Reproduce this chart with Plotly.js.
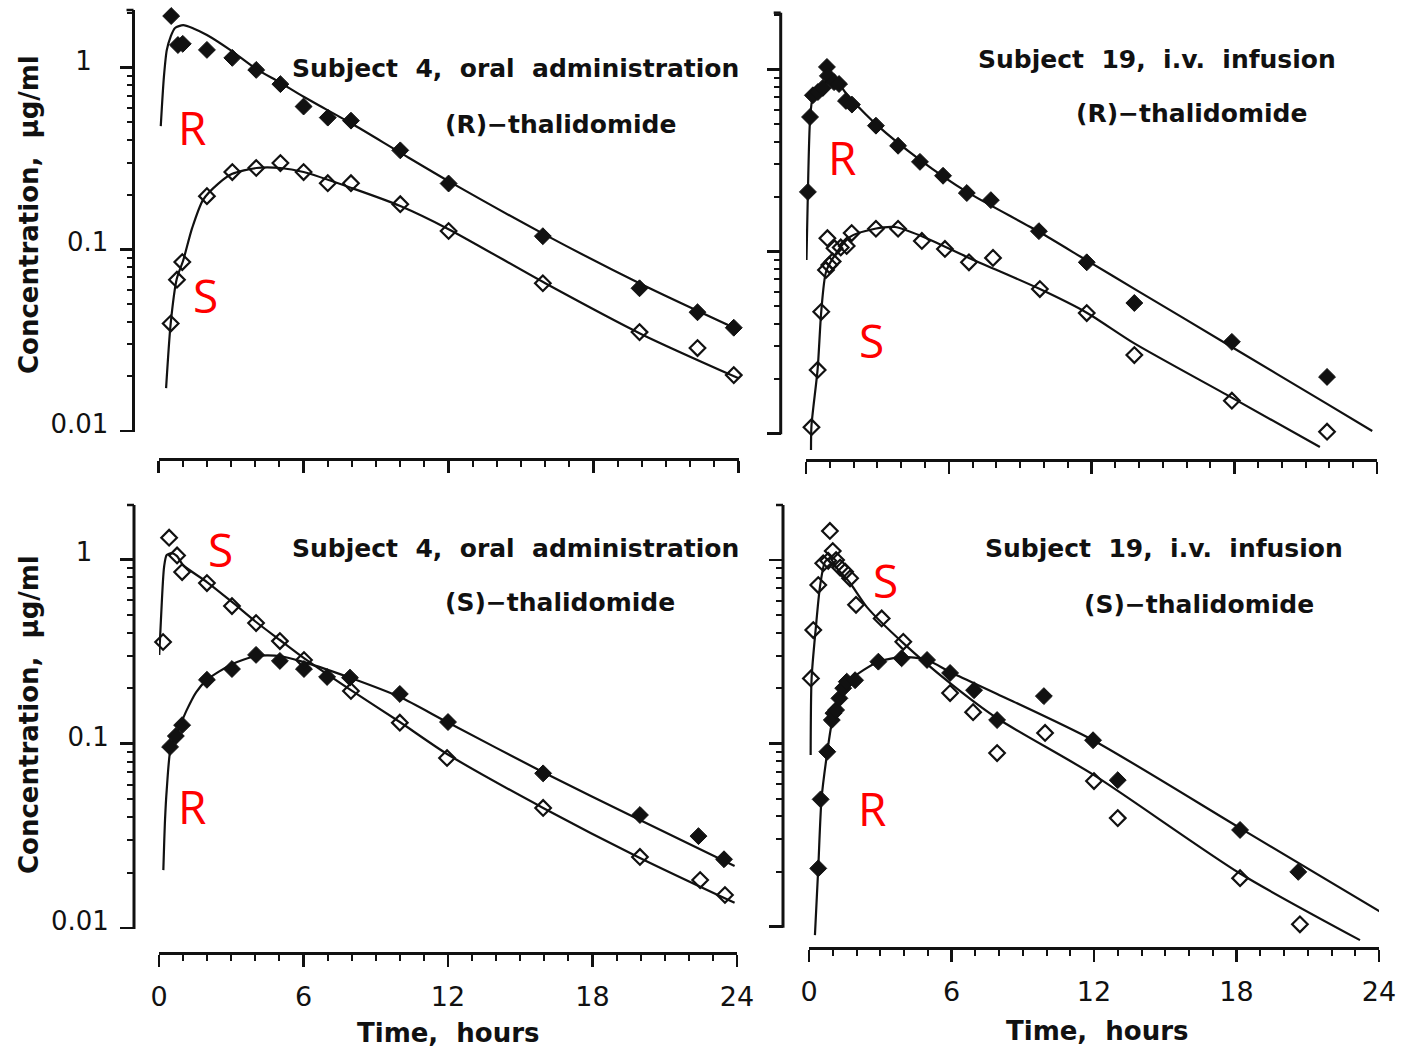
<!DOCTYPE html>
<html><head><meta charset="utf-8">
<script src="https://cdn.plot.ly/plotly-3.0.1.min.js"></script>
<style>html,body{margin:0;padding:0;background:#fff}#chart{width:1407px;height:1051px}</style>
</head><body><div id="chart"></div>
<script>
// ---------------- DATA (time in hours, concentration in µg/ml) ----------------
// Top-left: Subject 4, oral administration, (R)-thalidomide
const tlR_t = [0.52, 0.8, 1.0, 2.0, 3.05, 4.04, 5.04, 6.0, 7.0, 7.96, 10, 12, 15.9, 19.9, 22.3, 23.8];
const tlR_c = [1.92, 1.33, 1.35, 1.25, 1.13, 0.97, 0.81, 0.61, 0.53, 0.51, 0.35, 0.23, 0.118, 0.061, 0.045, 0.037];
const tlS_t = [0.5, 0.76, 0.98, 2.0, 3.05, 4.04, 5.04, 6.0, 7.0, 7.96, 10, 12, 15.9, 19.9, 22.3, 23.8];
const tlS_c = [0.039, 0.068, 0.085, 0.196, 0.266, 0.28, 0.298, 0.266, 0.231, 0.231, 0.177, 0.126, 0.065, 0.035, 0.0286, 0.0203];
const tlRfit_t = [0.09, 0.22, 0.34, 0.5, 0.68, 1.02, 1.44, 2.0, 2.96, 4.0, 5.0, 6.0, 8.0, 10, 12, 16, 20, 24];
const tlRfit_c = [0.476, 0.89, 1.25, 1.48, 1.65, 1.71, 1.64, 1.51, 1.25, 0.99, 0.83, 0.69, 0.49, 0.34, 0.237, 0.120, 0.064, 0.036];
const tlSfit_t = [0.31, 0.5, 0.75, 1.02, 1.39, 1.84, 2.46, 3.05, 4.04, 5.04, 6.0, 8, 10, 12, 16, 20, 24];
const tlSfit_c = [0.0172, 0.039, 0.0685, 0.087, 0.131, 0.187, 0.229, 0.26, 0.28, 0.28, 0.266, 0.217, 0.173, 0.129, 0.065, 0.034, 0.0195];

// Top-right: Subject 19, i.v. infusion, (R)-thalidomide
const trR_t = [0.08, 0.17, 0.29, 0.5, 0.71, 0.88, 0.92, 1.18, 1.39, 1.68, 1.93, 2.94, 3.87, 4.79, 5.76, 6.76, 7.77, 9.79, 11.8, 13.8, 17.9, 21.9];
const trR_c = [0.212, 0.547, 0.72, 0.75, 0.79, 1.03, 0.92, 0.85, 0.83, 0.67, 0.64, 0.49, 0.38, 0.31, 0.26, 0.209, 0.191, 0.129, 0.087, 0.052, 0.0318, 0.0204];
const trS_t = [0.23, 0.49, 0.64, 0.84, 0.98, 1.12, 0.9, 1.2, 1.46, 1.71, 1.92, 2.94, 3.87, 4.87, 5.84, 6.85, 7.86, 9.83, 11.8, 13.8, 17.9, 21.9];
const trS_c = [0.0108, 0.0223, 0.0465, 0.079, 0.084, 0.088, 0.118, 0.104, 0.105, 0.107, 0.126, 0.133, 0.133, 0.114, 0.103, 0.087, 0.092, 0.062, 0.0458, 0.0269, 0.0151, 0.0102];
const trRfit_t = [0.02, 0.08, 0.17, 0.29, 0.59, 0.92, 1.26, 1.64, 1.93, 2.94, 4.79, 6.76, 9.79, 11.8, 13.8, 17.86, 21.9, 23.8];
const trRfit_c = [0.0896, 0.212, 0.527, 0.705, 0.789, 0.873, 0.873, 0.75, 0.678, 0.50, 0.318, 0.212, 0.128, 0.0891, 0.0622, 0.0300, 0.0145, 0.0103];
const trSfit_t = [0.21, 0.23, 0.49, 0.64, 0.84, 1.22, 1.85, 2.9, 3.74, 4.87, 6.85, 9.83, 11.8, 13.8, 17.86, 21.6];
const trSfit_c = [0.0081, 0.011, 0.0226, 0.0465, 0.077, 0.0955, 0.12, 0.133, 0.136, 0.121, 0.092, 0.062, 0.046, 0.0312, 0.0158, 0.0084];

// Bottom-left: Subject 4, oral administration, (S)-thalidomide
const blS_t = [0.17, 0.42, 0.75, 0.96, 1.99, 3.03, 4.03, 5.02, 6.02, 7.97, 10, 11.96, 15.95, 19.97, 22.47, 23.5];
const blS_c = [0.356, 1.31, 1.05, 0.853, 0.743, 0.558, 0.451, 0.36, 0.284, 0.193, 0.13, 0.0836, 0.0448, 0.0243, 0.0182, 0.0151];
const blR_t = [0.46, 0.7, 0.96, 1.99, 3.03, 4.03, 5.02, 6.02, 6.98, 7.93, 10, 12, 15.95, 19.97, 22.4, 23.46];
const blR_c = [0.096, 0.110, 0.126, 0.222, 0.254, 0.303, 0.281, 0.254, 0.23, 0.228, 0.186, 0.131, 0.069, 0.041, 0.0315, 0.0236];
const blSfit_t = [0.01, 0.08, 0.21, 0.32, 0.53, 0.75, 1.0, 1.99, 3.03, 4.03, 5.02, 6.02, 7.97, 10, 11.96, 15.95, 19.97, 23.9];
const blSfit_c = [0.303, 0.469, 0.908, 1.055, 1.08, 1.04, 0.93, 0.753, 0.587, 0.457, 0.365, 0.291, 0.195, 0.131, 0.0879, 0.0448, 0.024, 0.0137];
const blRfit_t = [0.18, 0.25, 0.32, 0.49, 0.74, 1.15, 1.54, 1.99, 3.03, 4.03, 5.02, 6.02, 7.97, 10, 11.96, 15.95, 19.97, 23.9];
const blRfit_c = [0.0206, 0.0385, 0.056, 0.096, 0.114, 0.152, 0.19, 0.222, 0.27, 0.299, 0.299, 0.277, 0.227, 0.179, 0.131, 0.070, 0.0385, 0.0217];

// Bottom-right: Subject 19, i.v. infusion, (S)-thalidomide
const brS_t = [0.08, 0.18, 0.39, 0.6, 0.88, 1.0, 0.81, 1.14, 1.31, 1.52, 1.73, 1.98, 3.06, 3.97, 5.94, 6.91, 7.92, 9.94, 12.0, 13.0, 18.15, 20.67];
const brS_c = [0.226, 0.415, 0.73, 0.96, 1.44, 1.12, 0.99, 1.0, 0.91, 0.864, 0.795, 0.57, 0.48, 0.358, 0.188, 0.148, 0.0885, 0.114, 0.0623, 0.0391, 0.0184, 0.0103];
const brR_t = [0.39, 0.49, 0.77, 0.96, 1.03, 1.14, 1.28, 1.44, 1.59, 1.94, 2.92, 3.9, 4.97, 5.94, 6.95, 7.92, 9.89, 11.96, 13.0, 18.15, 20.6];
const brR_c = [0.0208, 0.0495, 0.09, 0.134, 0.146, 0.152, 0.176, 0.2, 0.217, 0.221, 0.279, 0.291, 0.285, 0.242, 0.195, 0.134, 0.181, 0.104, 0.063, 0.0337, 0.0199];
const brSfit_t = [0.07, 0.11, 0.29, 0.46, 0.67, 0.88, 1.17, 1.73, 2.43, 3.97, 5.94, 7.92, 12.0, 18.15, 23.2];
const brSfit_c = [0.0863, 0.227, 0.431, 0.712, 0.975, 1.025, 0.904, 0.749, 0.555, 0.352, 0.213, 0.137, 0.0671, 0.0195, 0.00845];
const brRfit_t = [0.25, 0.39, 0.53, 0.77, 0.96, 1.31, 1.73, 2.29, 2.92, 3.9, 4.97, 5.94, 7.92, 11.96, 18.15, 24.08];
const brRfit_c = [0.009, 0.0209, 0.0503, 0.0897, 0.129, 0.188, 0.221, 0.251, 0.278, 0.296, 0.285, 0.245, 0.186, 0.104, 0.0345, 0.012];

// Tick labels
const xTickVals = [0, 6, 12, 18, 24];
const xTickText = ['0', '6', '12', '18', '24'];
const yTickVals = [0.01, 0.1, 1];
const yTickText = ['0.01', '0.1', '1\u2007'];
const yMinorVals = [0.02,0.03,0.04,0.05,0.06,0.07,0.08,0.09,0.2,0.3,0.4,0.5,0.6,0.7,0.8,0.9,2];

// Texts
const panelTitles = [
  ['Subject\u00a0\u00a04,\u00a0\u00a0oral\u00a0\u00a0administration', '(R)\u2212thalidomide'],
  ['Subject\u00a0\u00a019,\u00a0\u00a0i.v.\u00a0\u00a0infusion', '(R)\u2212thalidomide'],
  ['Subject\u00a0\u00a04,\u00a0\u00a0oral\u00a0\u00a0administration', '(S)\u2212thalidomide'],
  ['Subject\u00a0\u00a019,\u00a0\u00a0i.v.\u00a0\u00a0infusion', '(S)\u2212thalidomide']
];
const yTitle = 'Concentration,\u00a0\u00a0\u00b5g/ml';
const xTitle = 'Time,\u00a0\u00a0hours';

// ---------------- LAYOUT GEOMETRY (pixels) ----------------
const W = 1407, H = 1051;
const fx = p => p / W;
const fy = p => 1 - p / H;
const geo = [
  {x0:158.6, x1:738.6, yTop:10,   yBot:458, spine:133.5, y001:431,   p1:67.5,  dec:181.7, labels:true,  xlabels:false,
   t1:[515,68], t2:[560,124], red:[['R',192,127],['S',205,295]]},
  {x0:806,   x1:1377,  yTop:12.7, yBot:459, spine:780.7, y001:433.3, p1:69.3,  dec:182,   labels:false, xlabels:false,
   t1:[1157,59], t2:[1191,113], red:[['R',842,157],['S',871,340]]},
  {x0:159,   x1:737,   yTop:505,  yBot:952, spine:134,   y001:928,   p1:559.3, dec:184.3, labels:true,  xlabels:true,
   t1:[515,548], t2:[560,602], red:[['S',220,549],['R',192,806]]},
  {x0:809,   x1:1379,  yTop:505,  yBot:947, spine:783,   y001:926.7, p1:560,   dec:183.3, labels:false, xlabels:true,
   t1:[1164,548], t2:[1199,604], red:[['S',886,580],['R',872,808]]}
];

const series = [
  [tlRfit_t, tlRfit_c, tlSfit_t, tlSfit_c, tlR_t, tlR_c, tlS_t, tlS_c],
  [trRfit_t, trRfit_c, trSfit_t, trSfit_c, trR_t, trR_c, trS_t, trS_c],
  [blRfit_t, blRfit_c, blSfit_t, blSfit_c, blR_t, blR_c, blS_t, blS_c],
  [brRfit_t, brRfit_c, brSfit_t, brSfit_c, brR_t, brR_c, brS_t, brS_c]
];

const FONT = 'DejaVu Sans, sans-serif';
const traces = [];
const layout = {
  width: W, height: H, margin: {l:0, r:0, t:0, b:0},
  paper_bgcolor: '#fff', plot_bgcolor: '#fff', showlegend: false,
  shapes: [], annotations: [], font: {family: FONT, color: '#111'}
};

geo.forEach((g, i) => {
  const n = i === 0 ? '' : String(i + 1);
  const xa = 'x' + n, ya = 'y' + n;
  const s = series[i];
  const lineStyle = {color: '#111', width: 2.2, shape: 'spline', smoothing: 0.7};
  traces.push({x: s[0], y: s[1], xaxis: xa, yaxis: ya, mode: 'lines', line: lineStyle, hoverinfo: 'skip'});
  traces.push({x: s[2], y: s[3], xaxis: xa, yaxis: ya, mode: 'lines', line: lineStyle, hoverinfo: 'skip'});
  traces.push({x: s[4], y: s[5], xaxis: xa, yaxis: ya, mode: 'markers', cliponaxis: false,
    marker: {symbol: 'diamond', size: 13, color: '#111', line: {color: '#111', width: 1}}});
  traces.push({x: s[6], y: s[7], xaxis: xa, yaxis: ya, mode: 'markers', cliponaxis: false,
    marker: {symbol: 'diamond-open', size: 12, color: '#111', line: {color: '#111', width: 2.2}}});

  const logTop = (g.p1 - g.yTop) / g.dec;
  const logBot = -2 - (g.yBot - g.y001) / g.dec;

  layout['xaxis' + n] = {
    domain: [fx(g.x0), fx(g.x1)], range: [0, 24], anchor: ya,
    showline: true, linecolor: '#111', linewidth: 2.5, mirror: false,
    ticks: 'outside', tickmode: 'array', tickvals: xTickVals, ticktext: xTickText,
    ticklen: 12, tickwidth: 2.5, tickcolor: '#111',
    minor: {dtick: 1, tick0: 0, ticks: 'outside', ticklen: 6, tickwidth: 2, tickcolor: '#111', showgrid: false},
    showgrid: false, zeroline: false, showticklabels: g.xlabels,
    tickfont: {family: FONT, size: 27, color: '#111'}, ticklabelstandoff: 7
  };
  layout['yaxis' + n] = {
    type: 'log', domain: [fy(g.yBot), fy(g.yTop)], range: [logBot, logTop],
    anchor: 'free', position: fx(g.spine), side: 'left',
    showline: false, ticks: 'outside', tickmode: 'array', tickvals: yTickVals, ticktext: yTickText,
    ticklen: 14, tickwidth: 2.5, tickcolor: '#111',
    minor: {tickmode: 'array', tickvals: yMinorVals, ticks: 'outside', ticklen: 7, tickwidth: 2, tickcolor: '#111', showgrid: false},
    showgrid: false, zeroline: false, showticklabels: g.labels,
    tickfont: {family: FONT, size: 26, color: '#111'}, ticklabelshift: -7, ticklabelstandoff: 6
  };

  // y spine from 0.01 to top, with a small cap
  layout.shapes.push({type: 'line', xref: 'paper', yref: 'paper',
    x0: fx(g.spine), x1: fx(g.spine), y0: fy(g.y001 + 1), y1: fy(g.yTop),
    line: {color: '#111', width: 3}});
  layout.shapes.push({type: 'line', xref: 'paper', yref: 'paper',
    x0: fx(g.spine - 7), x1: fx(g.spine), y0: fy(g.yTop), y1: fy(g.yTop),
    line: {color: '#111', width: 2.5}});

  // panel titles
  layout.annotations.push({xref: 'paper', yref: 'paper', x: fx(g.t1[0]), y: fy(g.t1[1]),
    xanchor: 'center', yanchor: 'middle', showarrow: false, text: '<b>' + panelTitles[i][0] + '</b>',
    font: {family: FONT, size: 25, color: '#111'}});
  layout.annotations.push({xref: 'paper', yref: 'paper', x: fx(g.t2[0]), y: fy(g.t2[1]),
    xanchor: 'center', yanchor: 'middle', showarrow: false, text: '<b>' + panelTitles[i][1] + '</b>',
    font: {family: FONT, size: 25, color: '#111'}});
  // red R / S labels
  g.red.forEach(r => layout.annotations.push({xref: 'paper', yref: 'paper', x: fx(r[1]), y: fy(r[2]),
    xanchor: 'center', yanchor: 'middle', showarrow: false, text: r[0],
    font: {family: 'Open Sans, sans-serif', size: 46, color: '#ff0000'}}));
});

// y-axis titles (left panels)
[[29, 215], [29, 715]].forEach(p => layout.annotations.push({xref: 'paper', yref: 'paper',
  x: fx(p[0]), y: fy(p[1]), xanchor: 'center', yanchor: 'middle', textangle: -90, showarrow: false,
  text: '<b>' + yTitle + '</b>', font: {family: FONT, size: 26, color: '#111'}}));
// x-axis titles (bottom panels)
[[449, 1033], [1097, 1031]].forEach(p => layout.annotations.push({xref: 'paper', yref: 'paper',
  x: fx(p[0]), y: fy(p[1]), xanchor: 'center', yanchor: 'middle', showarrow: false,
  text: '<b>' + xTitle + '</b>', font: {family: FONT, size: 26, color: '#111'}}));

Plotly.newPlot('chart', traces, layout, {staticPlot: true, displayModeBar: false});
</script>
</body></html>
